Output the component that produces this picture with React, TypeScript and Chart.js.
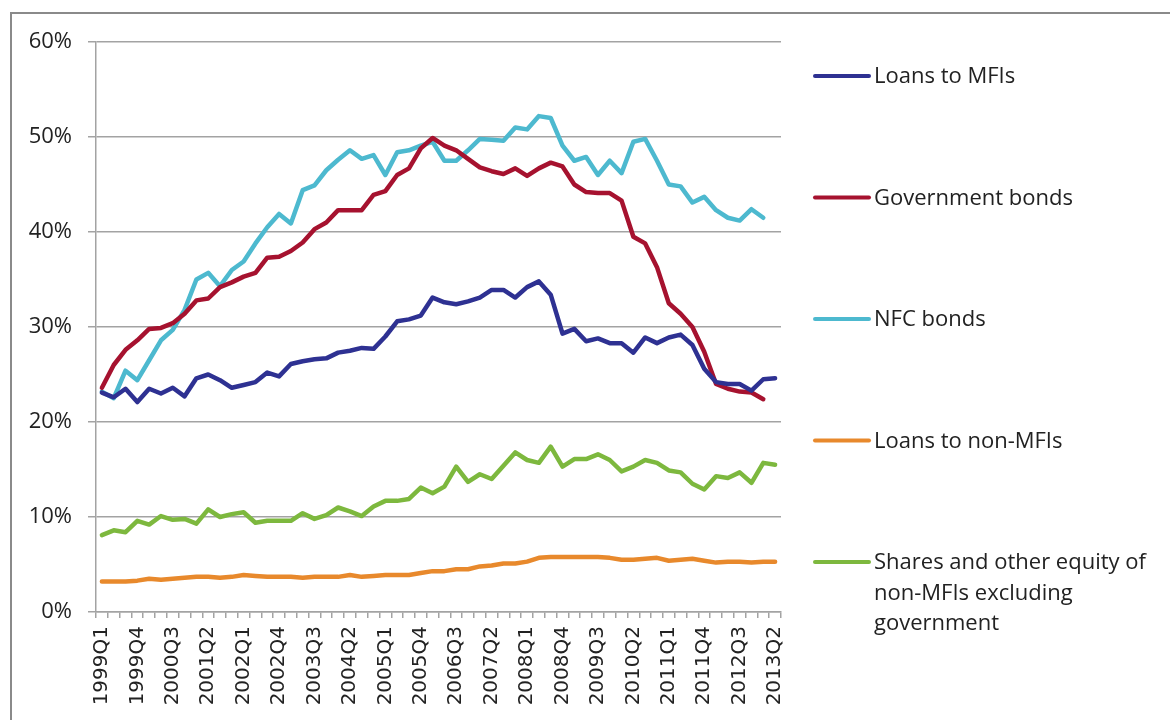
import React, { useEffect, useRef } from "react";
import { Chart, registerables } from "chart.js";

Chart.register(...registerables);

const quarters: string[] = [
  "1999Q1","1999Q2","1999Q3","1999Q4",
  "2000Q1","2000Q2","2000Q3","2000Q4",
  "2001Q1","2001Q2","2001Q3","2001Q4",
  "2002Q1","2002Q2","2002Q3","2002Q4",
  "2003Q1","2003Q2","2003Q3","2003Q4",
  "2004Q1","2004Q2","2004Q3","2004Q4",
  "2005Q1","2005Q2","2005Q3","2005Q4",
  "2006Q1","2006Q2","2006Q3","2006Q4",
  "2007Q1","2007Q2","2007Q3","2007Q4",
  "2008Q1","2008Q2","2008Q3","2008Q4",
  "2009Q1","2009Q2","2009Q3","2009Q4",
  "2010Q1","2010Q2","2010Q3","2010Q4",
  "2011Q1","2011Q2","2011Q3","2011Q4",
  "2012Q1","2012Q2","2012Q3","2012Q4",
  "2013Q1","2013Q2",
];

const loansToMFIs: (number | null)[] = [
  23.1, 22.6, 23.5, 22.1, 23.5, 23.0, 23.6, 22.7, 24.6, 25.0,
  24.4, 23.6, 23.9, 24.2, 25.2, 24.8, 26.1, 26.4, 26.6, 26.7,
  27.3, 27.5, 27.8, 27.7, 29.0, 30.6, 30.8, 31.2, 33.1, 32.6,
  32.4, 32.7, 33.1, 33.9, 33.9, 33.1, 34.2, 34.8, 33.4, 29.3,
  29.8, 28.5, 28.8, 28.3, 28.3, 27.3, 28.9, 28.3, 28.9, 29.2,
  28.1, 25.6, 24.2, 24.0, 24.0, 23.3, 24.5, 24.6,
];

const governmentBonds: (number | null)[] = [
  23.6, 26.0, 27.6, 28.6, 29.8, 29.9, 30.4, 31.4, 32.8, 33.0,
  34.2, 34.7, 35.3, 35.7, 37.3, 37.4, 38.0, 38.9, 40.3, 41.0,
  42.3, 42.3, 42.3, 43.9, 44.3, 46.0, 46.7, 48.8, 49.9, 49.1,
  48.6, 47.7, 46.8, 46.4, 46.1, 46.7, 45.9, 46.7, 47.3, 46.9,
  45.0, 44.2, 44.1, 44.1, 43.3, 39.5, 38.8, 36.3, 32.5, 31.4,
  30.0, 27.4, 24.0, 23.5, 23.2, 23.1, 22.4, null,
];

const nfcBonds: (number | null)[] = [
  23.2, 22.5, 25.4, 24.4, 26.5, 28.6, 29.7, 31.8, 35.0, 35.7,
  34.3, 36.0, 36.9, 38.8, 40.5, 41.9, 40.9, 44.4, 44.9, 46.5,
  47.6, 48.6, 47.7, 48.1, 46.0, 48.4, 48.6, 49.1, 49.5, 47.5,
  47.5, 48.6, 49.8, 49.7, 49.6, 51.0, 50.8, 52.2, 52.0, 49.1,
  47.5, 47.9, 46.0, 47.5, 46.2, 49.5, 49.8, 47.5, 45.0, 44.8,
  43.1, 43.7, 42.3, 41.5, 41.2, 42.4, 41.5, null,
];

const loansToNonMFIs: (number | null)[] = [
  3.2, 3.2, 3.2, 3.3, 3.5, 3.4, 3.5, 3.6, 3.7, 3.7,
  3.6, 3.7, 3.9, 3.8, 3.7, 3.7, 3.7, 3.6, 3.7, 3.7,
  3.7, 3.9, 3.7, 3.8, 3.9, 3.9, 3.9, 4.1, 4.3, 4.3,
  4.5, 4.5, 4.8, 4.9, 5.1, 5.1, 5.3, 5.7, 5.8, 5.8,
  5.8, 5.8, 5.8, 5.7, 5.5, 5.5, 5.6, 5.7, 5.4, 5.5,
  5.6, 5.4, 5.2, 5.3, 5.3, 5.2, 5.3, 5.3,
];

const sharesEquity: (number | null)[] = [
  8.1, 8.6, 8.4, 9.6, 9.2, 10.1, 9.7, 9.8, 9.3, 10.8,
  10.0, 10.3, 10.5, 9.4, 9.6, 9.6, 9.6, 10.4, 9.8, 10.2,
  11.0, 10.6, 10.1, 11.1, 11.7, 11.7, 11.9, 13.1, 12.5, 13.2,
  15.3, 13.7, 14.5, 14.0, 15.4, 16.8, 16.0, 15.7, 17.4, 15.3,
  16.1, 16.1, 16.6, 16.0, 14.8, 15.3, 16.0, 15.7, 14.9, 14.7,
  13.5, 12.9, 14.3, 14.1, 14.7, 13.6, 15.7, 15.5,
];

const seriesLabels: string[] = [
  "Loans to MFIs",
  "Government bonds",
  "NFC bonds",
  "Loans to non-MFIs",
  "Shares and other equity of\nnon-MFIs excluding\ngovernment",
];

const seriesColors: string[] = ["#2E3192", "#A6122F", "#4DB9CF", "#E8892C", "#7DB83E"];

const yTicks: number[] = [0, 10, 20, 30, 40, 50, 60];

const TEXT = "#222222";
const GRID = "#a3a3a3";

const framePlugin = {
  id: "frame",
  beforeDraw(chart: any) {
    const ctx = chart.ctx;
    ctx.save();
    ctx.fillStyle = "#ffffff";
    ctx.fillRect(0, 0, chart.width, chart.height);
    ctx.strokeStyle = "#8a8a8a";
    ctx.lineWidth = 2;
    ctx.strokeRect(11, 13, chart.width + 20, chart.height + 20);
    ctx.restore();
  },
};

const sideLegendPlugin = {
  id: "sideLegend",
  afterDraw(chart: any) {
    const ctx = chart.ctx;
    const x0 = 815;
    const x1 = 869;
    const tx = 874;
    const top = 76;
    const step = 121.5;
    const lh = 30.5;
    ctx.save();
    ctx.font = "22px 'Open Sans'";
    ctx.textBaseline = "middle";
    ctx.textAlign = "left";
    chart.data.datasets.forEach((ds: any, i: number) => {
      const y = top + i * step;
      ctx.strokeStyle = ds.borderColor;
      ctx.lineWidth = 4;
      ctx.lineCap = "round";
      ctx.beginPath();
      ctx.moveTo(x0, y);
      ctx.lineTo(x1, y);
      ctx.stroke();
      ctx.fillStyle = TEXT;
      String(ds.label)
        .split("\n")
        .forEach((line: string, k: number) => {
          ctx.fillText(line, tx, y + 1 + k * lh);
        });
    });
    ctx.restore();
  },
};

export default function App() {
  const canvasRef = useRef<HTMLCanvasElement | null>(null);

  useEffect(() => {
    if (!canvasRef.current) return;
    const seriesData = [loansToMFIs, governmentBonds, nfcBonds, loansToNonMFIs, sharesEquity];
    const chart = new Chart(canvasRef.current, {
      type: "line",
      data: {
        labels: quarters,
        datasets: seriesData.map((d, i) => ({
          label: seriesLabels[i],
          data: d,
          borderColor: seriesColors[i],
          backgroundColor: seriesColors[i],
          borderWidth: 4.5,
          pointRadius: 0,
          tension: 0,
          borderJoinStyle: "round" as const,
          borderCapStyle: "round" as const,
          spanGaps: false,
        })),
      },
      options: {
        responsive: false,
        animation: false,
        devicePixelRatio: 1,
        layout: { padding: { top: 42, right: 389, left: 0, bottom: 0 } },
        plugins: {
          legend: { display: false },
          tooltip: { enabled: false },
          title: { display: false },
        },
        scales: {
          x: {
            type: "category",
            offset: true,
            afterFit: (s: any) => {
              s.height = 108;
            },
            grid: {
              display: true,
              drawOnChartArea: false,
              drawTicks: true,
              tickLength: 6,
              offset: true,
              color: GRID,
              lineWidth: 1.5,
            },
            border: { display: true, color: GRID, width: 1.5 },
            ticks: {
              autoSkip: false,
              minRotation: 90,
              maxRotation: 90,
              padding: 8,
              color: TEXT,
              font: { family: "'DejaVu Sans'", size: 20 },
              callback: (_v: any, idx: number) => (idx % 3 === 0 ? quarters[idx] : ""),
            },
          },
          y: {
            min: yTicks[0],
            max: yTicks[yTicks.length - 1],
            afterFit: (s: any) => {
              s.width = 96;
            },
            afterBuildTicks: (s: any) => {
              s.ticks = yTicks.map((v) => ({ value: v }));
            },
            grid: {
              color: GRID,
              lineWidth: 1.5,
              drawTicks: true,
              tickLength: 8,
            },
            border: { display: true, color: GRID, width: 1.5 },
            ticks: {
              padding: 16,
              color: TEXT,
              font: { family: "'Open Sans'", size: 22 },
              callback: (v: any) => `${v}%`,
            },
          },
        },
      },
      plugins: [framePlugin, sideLegendPlugin],
    });
    return () => chart.destroy();
  }, []);

  return (
    <div style={{ position: "absolute", left: 0, top: 0, width: 1170, height: 720, background: "#fff" }}>
      <canvas ref={canvasRef} width={1170} height={720} style={{ width: 1170, height: 720, display: "block" }} />
    </div>
  );
}
